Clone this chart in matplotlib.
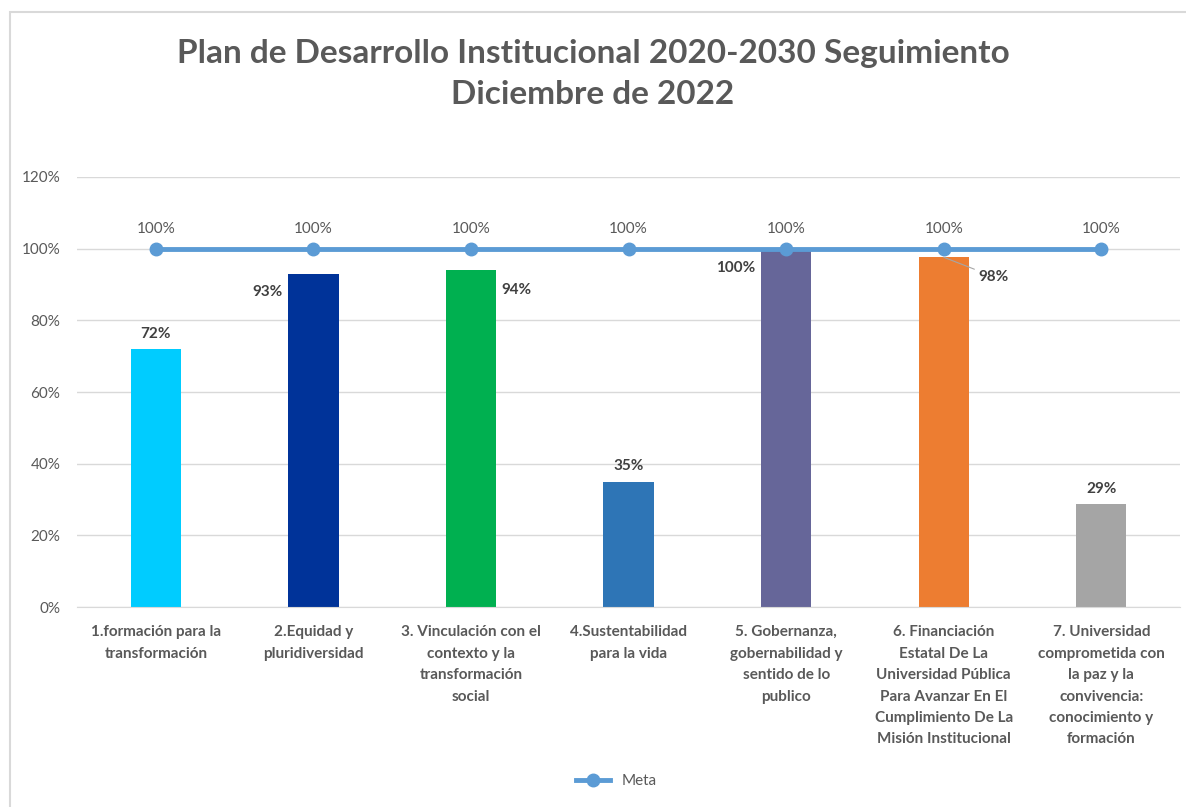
import matplotlib.pyplot as plt
from matplotlib.patches import Rectangle

plt.rcParams['font.family'] = ['Lato', 'DejaVu Sans']

categories = [
    "1.formación para la\ntransformación",
    "2.Equidad y\npluridiversidad",
    "3. Vinculación con el\ncontexto y la\ntransformación\nsocial",
    "4.Sustentabilidad\npara la vida",
    "5. Gobernanza,\ngobernabilidad y\nsentido de lo\npublico",
    "6. Financiación\nEstatal De La\nUniversidad Pública\nPara Avanzar En El\nCumplimiento De La\nMisión Institucional",
    "7. Universidad\ncomprometida con\nla paz y la\nconvivencia:\nconocimiento y\nformación",
]
avance = [0.72, 0.93, 0.94, 0.35, 0.996, 0.976, 0.287]
meta = [1.0, 1.0, 1.0, 1.0, 1.0, 1.0, 1.0]
bar_colors = ['#00CCFF', '#003399', '#00B050', '#2E75B6', '#666699', '#ED7D31', '#A5A5A5']
ticks = [0, 0.2, 0.4, 0.6, 0.8, 1.0, 1.2]

# where each bar label sits relative to its bar
label_pos = ['top', 'left', 'right', 'top', 'left', 'right_low', 'top']

gray = '#595959'

fig = plt.figure(figsize=(11.86, 8.07), dpi=100)
fig.patches.append(Rectangle((10 / 1186, -0.01), 1.02, 1 - 12 / 807 + 0.01,
                             transform=fig.transFigure, fill=False,
                             edgecolor='#D9D9D9', linewidth=1.5))

ax = fig.add_axes([0.065, 0.2478, 0.930, 0.5329])
x = list(range(len(categories)))

ax.bar(x, avance, width=0.32, color=bar_colors, zorder=2)
line, = ax.plot(x, meta, color='#5B9BD5', linewidth=3.5, marker='o',
                markersize=9, zorder=3, label='Meta')

for i, v in enumerate(avance):
    txt = f"{v:.0%}"
    pos = label_pos[i]
    if pos == 'top':
        ax.annotate(txt, (i, v), xytext=(0, 6), textcoords='offset points',
                    ha='center', va='bottom', fontsize=11, fontweight='bold', color='#404040')
    elif pos == 'left':
        ax.annotate(txt, (i - 0.16, v), xytext=(-4, -13), textcoords='offset points',
                    ha='right', va='center', fontsize=11, fontweight='bold', color='#404040')
    elif pos == 'right':
        ax.annotate(txt, (i + 0.16, v), xytext=(4, -14), textcoords='offset points',
                    ha='left', va='center', fontsize=11, fontweight='bold', color='#404040')
    else:
        ax.annotate(txt, (i, v), xytext=(25, -14), textcoords='offset points',
                    ha='left', va='center', fontsize=11, fontweight='bold', color='#404040',
                    arrowprops=dict(arrowstyle='-', color='#A6A6A6', lw=0.8,
                                    shrinkA=1, shrinkB=0))

for i, m in enumerate(meta):
    ax.annotate(f"{m:.0%}", (i, m), xytext=(0, 9), textcoords='offset points',
                ha='center', va='bottom', fontsize=11, color=gray)

ax.set_xlim(-0.5, len(categories) - 0.5)
ax.set_ylim(0, 1.2)
ax.set_yticks(ticks)
ax.set_yticklabels([f"{t:.0%}" for t in ticks], fontsize=11, color=gray)
ax.set_xticks(x)
ax.set_xticklabels(categories, fontsize=11, fontweight='bold', color=gray,
                   linespacing=1.68, va='top')
ax.tick_params(length=0, pad=13)
ax.tick_params(axis='y', pad=12)
ax.grid(axis='y', color='#D9D9D9', linewidth=1, zorder=0)
ax.set_axisbelow(True)
for s in ['top', 'right', 'left']:
    ax.spines[s].set_visible(False)
ax.spines['bottom'].set_color('#D9D9D9')

fig.text(0.5, 0.908, "Plan de Desarrollo Institucional 2020-2030 Seguimiento\nDiciembre de 2022",
         ha='center', va='center', fontsize=24, fontweight='bold', color=gray,
         linespacing=1.5)

fig.legend(handles=[line], loc='center', bbox_to_anchor=(0.52, 0.032), frameon=False,
           fontsize=11, labelcolor=gray, handlelength=2.2)

fig.savefig('out.png', dpi=100)
